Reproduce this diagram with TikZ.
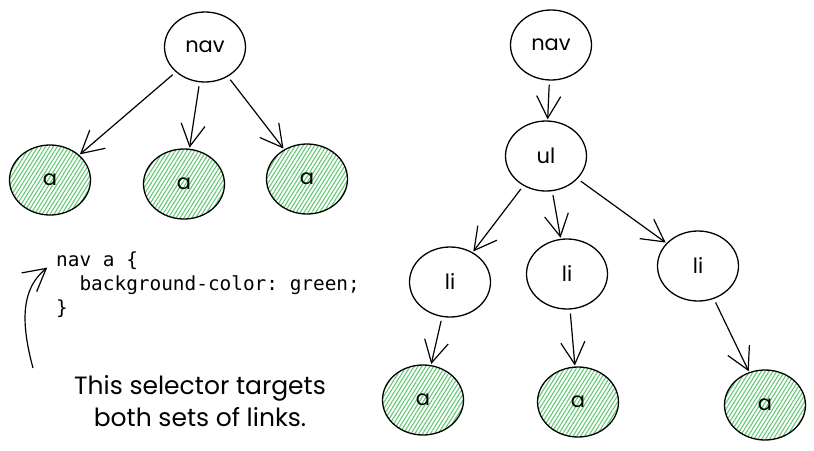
\documentclass[tikz,border=0pt]{standalone}
\usepackage{fontspec}
\setmainfont{Poppins}
\setmonofont{DejaVu Sans Mono}
\usetikzlibrary{shapes.geometric, arrows.meta, patterns.meta}

\definecolor{hatchgreen}{RGB}{100,200,118}

\tikzset{
  tag/.style={draw, ellipse, line width=1.3pt, minimum width=81pt, minimum height=70pt,
    inner sep=0pt, font=\fontsize{21}{24}\selectfont},
  hit/.style={tag, pattern={Lines[angle=58, distance=3.3pt, line width=1.1pt]},
    pattern color=hatchgreen},
  link/.style={line width=1.2pt, -{Straight Barb[length=22pt, width=24pt, line width=1.2pt]},
    shorten <=4pt, shorten >=1pt}
}

\begin{document}
\begin{tikzpicture}[x=1pt, y=-1pt]
  \useasboundingbox (0,0) rectangle (814,450);

  % Left tree
  \node[tag] (navL) at (205,47) {nav};
  \node[hit] (aL1) at (50,180) {a};
  \node[hit] (aL2) at (184,184) {a};
  \node[hit] (aL3) at (307,179) {a};
  \draw[link] (navL) -- (aL1);
  \draw[link] (navL) -- (aL2);
  \draw[link] (navL) -- (aL3);

  % CSS rule and note
  \node[anchor=north west, align=left, inner sep=0pt,
    font=\ttfamily\fontsize{19.4}{24}\selectfont] (css) at (56,252)
    {nav a \{\\~~background-color: green;\\\}};
  \coordinate (tail) at (33,368);
  \coordinate (tip) at (48,267);
  \draw[link, shorten <=0pt] (tail) .. controls (20,320) and (22,288) .. (tip);
  \node[align=center, font=\fontsize{25}{32}\selectfont] (note) at (200,401)
    {This selector targets\\both sets of links.};

  % Right tree
  \node[tag] (navR) at (551,45) {nav};
  \node[tag] (ul) at (546,156) {ul};
  \node[tag] (li1) at (450,282) {li};
  \node[tag] (li2) at (567,274) {li};
  \node[tag] (li3) at (698,266) {li};
  \node[hit] (aR1) at (423,400) {a};
  \node[hit] (aR2) at (578,402) {a};
  \node[hit] (aR3) at (765,405) {a};
  \draw[link] (navR) -- (ul);
  \draw[link] (ul) -- (li1);
  \draw[link] (ul) -- (li2);
  \draw[link] (ul) -- (li3);
  \draw[link] (li1) -- (aR1);
  \draw[link] (li2) -- (aR2);
  \draw[link] (li3) -- (aR3);
\end{tikzpicture}
\end{document}
